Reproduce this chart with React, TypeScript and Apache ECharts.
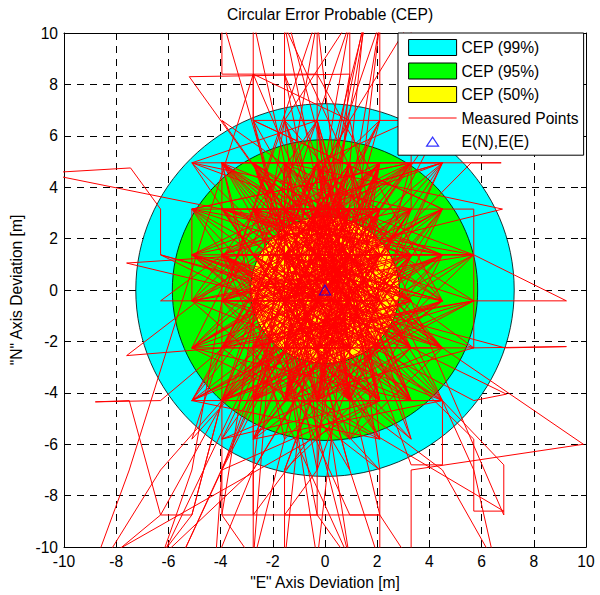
import React, { useEffect, useRef } from 'react';
import * as echarts from 'echarts';

const titleText = 'Circular Error Probable (CEP)';
const xAxisName = '"E" Axis Deviation [m]';
const yAxisName = '"N" Axis Deviation [m]';

const cepNames = ['CEP (99%)', 'CEP (95%)', 'CEP (50%)'];
const cepRadii = [7.25, 5.85, 2.85];
const cepColors = ['#00ffff', '#00ff00', '#ffff00'];
const cepCenter = [0, 0];

const meanName = 'E(N),E(E)';
const meanPoint = [0, 0];

const measuredName = 'Measured Points';
const measuredPoints: number[][] = [
  [-0.3, -0.42], [0.95, 3.15], [-2.75, -2.25], [2.1, -0.42], [-1.55, 1.37],
  [-0.3, -4.3], [3.3, 1.37], [-3.95, 3.15], [-10.8, 4.55], [-7.45, 4.75],
  [-6.3, 3.15], [-6.3, 1.37], [0.95, -2.25], [-0.3, 4.95], [-2.75, -0.42],
  [2.1, -4.3], [-1.55, 6.6], [-1.55, 11.0], [0.95, 1.37], [-5.1, -2.25],
  [3.3, 3.15], [-0.3, -7.0], [-1.55, -0.42], [4.5, -2.25], [-2.75, 4.95],
  [2.1, 1.37], [-3.95, -4.3], [0.95, 10.4], [-0.3, 3.15], [3.3, -0.42],
  [-2.75, -8.75], [-2.75, -7.0], [-1.55, 3.15], [4.5, 4.95], [-6.3, -4.3],
  [-8.8, -4.35], [-7.5, -4.3], [-6.3, -8.75], [-5.1, -8.75], [-3.95, -4.3],
  [0.95, -0.42], [-0.3, 1.37], [2.1, -2.25], [-3.95, 1.37], [3.3, -4.3],
  [-1.55, 8.4], [-3.95, 8.4], [-3.95, 10.6], [-0.3, -2.25], [5.7, -0.42],
  [9.25, -0.42], [5.7, 1.37], [-2.75, 1.37], [0.95, -4.3], [-0.3, 6.6],
  [-5.1, -0.42], [2.1, 3.15], [-1.55, -7.0], [3.3, -2.25], [-3.95, 4.95],
  [0.95, 1.37], [-2.75, -4.3], [2.1, 6.6], [2.1, 10.4], [-0.3, -10.5],
  [-1.55, -2.25], [4.5, 1.37], [-5.1, 3.15], [3.3, 4.95], [6.75, 4.95],
  [5.6, 4.95], [2.1, 1.37], [-2.75, -0.42], [0.95, -8.75], [2.1, -8.75],
  [-0.3, 1.37], [-3.95, -2.25], [2.1, 4.95], [-1.55, -4.3], [5.7, -2.25],
  [9.25, -2.2], [6.9, -2.25], [-6.3, 1.37], [-0.3, -0.42], [3.3, 3.15],
  [-2.75, -7.0], [-4.2, -10.6], [-3.95, -7.0], [0.95, 4.95], [2.1, -0.42],
  [-5.1, -4.3], [-1.55, 1.37], [4.5, -0.42], [-0.3, 8.4], [-0.3, 10.6],
  [-3.95, -0.42], [0.95, -2.25], [-2.75, 3.15], [3.3, 1.37], [-0.3, -4.3],
  [2.1, 10.4], [-1.55, -0.42], [5.7, -4.3], [6.95, -4.05], [-3.95, 1.37],
  [0.95, -7.0], [-2.75, 6.6], [4.5, 3.15], [-0.3, -2.25], [-5.1, 4.95],
  [2.1, -2.25], [-1.55, 3.15], [3.3, -0.42], [6.85, -8.75], [6.85, -6.8],
  [4.5, -4.3], [0.95, 1.37], [-2.75, -2.25], [-0.3, 3.15], [2.1, -4.3],
  [-3.95, -7.0], [-1.55, -2.25], [0.95, 6.6], [-0.3, 1.37], [3.3, -2.25],
  [-2.75, 1.37], [-7.6, 1.05], [-1.55, -0.42], [-6.3, -10.5], [-5.1, -7.0],
  [-3.95, -0.42], [2.1, 3.15], [-0.3, -0.42], [4.5, 4.95], [-1.55, -4.3],
  [0.95, 3.15], [5.7, 1.37], [-2.75, -4.3], [-0.3, 4.95], [3.3, -4.3],
  [-3.95, 3.15], [2.1, 1.37], [-1.55, -0.42], [0.95, -10.5], [-0.3, -2.25],
  [-2.75, 4.95], [4.5, -0.42], [-5.1, 1.37], [0.95, -0.42], [-0.3, 6.6],
  [2.1, -2.25], [-3.95, -4.3], [3.3, 4.95], [-1.55, 1.37], [5.7, -5.8],
  [5.7, -8.6], [6.85, -8.6], [-0.3, -4.3], [-2.75, -0.42], [0.95, 1.37],
  [2.1, -7.0], [-3.95, -2.25], [-7.6, -2.55], [-0.3, 3.15], [3.3, -0.42],
  [-1.55, 10.3], [0.95, -2.25], [-2.75, 3.15], [4.5, 1.37], [-0.3, -0.42],
  [-5.1, -2.25], [2.1, 4.95], [-1.55, -4.3], [3.3, 1.37], [0.95, -4.3],
  [-3.95, 1.37], [-0.3, -2.25], [2.1, 3.15], [-2.75, -4.3], [0.95, 4.95],
  [-1.55, -2.25], [4.5, -2.25], [9.9, -6.0], [3.3, -7.0], [3.3, -10.6],
  [2.1, -8.75], [-1.55, -8.75], [-0.3, -7.0], [0.95, 8.4], [-5.2, 8.3],
  [-0.3, 1.37], [6.8, 3.15], [-1.55, 4.95], [-2.75, -10.5], [-3.95, -8.75],
  [-1.55, 6.6], [3.3, 6.6], [-0.3, 4.95], [2.1, -4.3], [-8.8, -10.6],
  [-7.5, -7.0], [-2.75, 8.4], [0.95, -0.42], [4.5, 6.6], [-0.3, -0.42],
  [-3.95, 4.95], [4.5, 4.95], [2.1, -0.42], [-5.1, -0.42], [-5.1, 3.15],
  [3.3, 3.15], [3.3, 10.5], [0.95, 6.6], [-2.75, 6.6], [-2.75, 10.5],
  [-1.55, 4.95], [-1.55, -2.25], [5.7, -2.25], [5.7, 3.15], [-0.3, 3.15],
  [-0.3, -8.75], [-3.95, -8.75], [-3.95, 4.95], [-1.55, -4.3], [4.5, -4.3],
  [4.5, -6.8], [3.3, -6.8], [0.95, -0.42], [-2.75, -0.42], [-2.75, -5.8],
  [0.95, 3.15], [0.95, -5.8], [-1.55, 1.37], [2.1, 1.37], [-3.95, -2.25],
  [-5.1, -5.8], [-0.3, -0.42], [-0.3, 8.4], [-1.55, 8.4], [0.95, -4.3],
  [-2.75, 3.15], [2.1, -2.25], [-5.1, 1.37], [4.5, 1.37], [0.95, -2.25],
  [-1.55, 6.6], [-0.3, -5.8], [2.1, 4.95], [-3.95, -0.42], [3.3, -0.42],
  [-0.3, 1.37], [-2.75, -2.25], [-2.75, -10.6], [-1.55, -5.8], [0.95, 4.95],
  [2.1, -5.8], [-3.95, 3.15], [3.3, -2.25], [-0.3, 4.95], [-2.75, 1.37],
  [5.7, 1.37], [0.95, 1.37], [-1.55, -0.42], [-6.3, -0.42], [-1.55, 3.15],
  [2.1, 3.15], [-0.3, -4.3], [-5.1, -4.3], [-0.3, -2.25], [3.3, 1.37],
  [-3.95, 6.6], [0.95, -0.42], [-1.55, -7.0], [-1.55, -10.6], [-0.3, 1.37],
  [4.5, -2.25], [-2.75, 4.95], [-0.3, -0.42], [2.1, -4.3], [-3.95, 1.37],
  [0.95, 3.15], [-1.55, -2.25], [3.3, 4.95], [-5.1, 4.95], [-0.3, 6.6],
  [0.95, -4.3], [-2.75, -4.3], [4.5, -0.42], [-1.55, 1.37], [-0.3, -2.25],
  [2.1, 6.6], [-3.95, -5.8], [0.95, 1.37], [-2.75, -0.42], [3.3, -4.3],
  [-0.3, 3.15], [-1.55, -4.3], [5.7, -0.42], [-5.1, -2.25], [0.95, -2.25],
  [-1.55, 4.95], [2.1, 1.37], [-2.75, -7.0], [-6.5, -10.6], [-5.1, -8.75],
  [-3.95, -4.3], [-0.3, 4.95], [2.1, -0.42], [-2.75, 3.15], [0.95, -0.42],
  [-0.3, 10.5], [-1.55, 3.15], [3.3, -0.42], [-3.95, -2.25], [0.95, 4.95],
  [-0.3, -4.3], [4.5, 3.15], [-1.55, -0.42], [-2.75, 1.37], [2.1, -2.25],
  [-0.3, 1.37], [0.95, 8.4], [0.95, 10.5], [-1.55, 6.6], [-3.95, -0.42],
  [2.1, -7.0], [2.1, -10.6], [0.95, -7.0], [-0.3, -2.25], [3.3, 3.15],
  [-5.1, 1.37], [-0.3, -0.42], [-2.75, -2.25], [1.0, -10.6], [-0.3, -8.75],
  [-1.55, -2.25], [0.95, 3.15], [-3.95, 3.15], [2.1, 3.15], [-1.55, 1.37],
  [4.5, -4.3], [5.7, -7.0], [6.5, -10.6], [4.5, -7.0], [0.95, -4.3],
  [-2.75, 4.95], [-0.3, 1.37], [3.3, 1.37], [-1.55, -4.3], [-3.95, 1.37],
  [0.95, -2.25], [2.1, 4.95], [-0.3, -0.42], [-2.75, -4.3], [-5.6, -10.6],
  [-3.95, -7.0], [-0.3, 3.15], [-1.55, -0.42], [2.1, 1.37], [0.95, 6.6],
  [-2.75, 8.4], [-2.75, 6.6], [-0.3, -4.3], [3.3, -2.25], [-1.55, 3.15],
  [0.95, -0.42], [-3.95, -4.3], [-6.3, -7.0], [-8.5, -10.6], [-6.3, -8.75],
  [-2.75, -2.25], [-0.3, 1.37], [1.5, 10.5], [0.95, 4.95], [-1.55, 1.37],
  [4.5, -0.42], [-0.3, -2.25], [2.1, -4.3], [-2.75, 1.37], [0.95, 1.37],
  [-0.3, -0.42], [2.1, -2.25], [-1.55, 3.15], [0.95, -4.3], [-0.3, 4.95],
  [-2.75, -0.42], [3.3, 1.37], [-0.3, -2.25], [0.95, 3.15], [-3.95, -0.42],
  [2.1, 1.37], [-1.55, -4.3], [0.95, -0.42], [-0.3, 3.15], [-2.75, -2.25],
  [3.3, -0.42], [-1.55, 1.37], [2.1, 4.95], [-0.3, -4.3], [0.95, 1.37],
  [-2.75, 3.15], [4.5, -2.25], [-0.3, -0.42], [-1.55, -2.25], [2.1, 3.15],
  [0.95, -2.25], [-3.95, 1.37], [-0.3, 1.37], [3.3, -2.25], [-1.55, 4.95],
  [0.95, -0.42], [-2.75, -4.3], [2.1, -0.42], [-0.3, 3.15], [-1.55, -0.42],
  [4.5, 3.15], [0.95, -4.3], [-2.75, 1.37], [-0.3, -2.25], [2.1, 1.37],
  [-3.95, -2.25], [0.95, 4.95], [-1.55, 1.37], [3.3, -4.3], [-0.3, -0.42],
  [-2.75, 4.95], [0.95, 1.37], [2.1, -4.3], [-1.55, -2.25], [-0.3, 1.37],
  [3.3, 3.15], [-3.95, -4.3], [0.95, -2.25], [-0.3, 4.95], [-2.75, -0.42],
  [2.1, -2.25], [-1.55, 3.15], [0.95, -0.42], [4.5, 1.37], [-0.3, -4.3],
  [-2.75, 3.15], [2.1, 3.15], [-1.55, -4.3], [0.95, 1.37], [-3.95, 3.15],
  [-0.3, -2.25], [3.3, -0.42], [-1.55, 1.37], [0.95, 3.15], [-2.75, -2.25],
  [2.1, -0.42], [-0.3, 1.37], [-1.55, -0.42], [0.95, -4.3], [3.3, 4.95],
  [-0.3, -0.42], [-3.95, 1.37], [2.1, -2.25], [-2.75, 1.37], [0.95, -2.25],
  [-0.3, 3.15], [-1.55, -2.25], [4.5, -0.42], [-0.3, -4.3], [-2.75, -4.3],
  [0.95, 4.95], [2.1, 1.37], [-1.55, 3.15], [-0.3, -0.42], [3.3, -2.25],
  [-3.95, -0.42], [0.95, 1.37], [-2.75, 4.95], [-0.3, -2.25], [2.1, 4.95],
  [-1.55, -0.42], [0.95, -0.42], [-0.3, 1.37], [3.3, 1.37], [-2.75, -2.25],
  [0.95, 3.15], [-1.55, -4.3], [2.1, -4.3], [-0.3, 4.95], [-3.95, -2.25],
  [0.95, -2.25], [-1.55, 1.37], [2.1, -0.42], [-0.3, -0.42], [-2.75, 3.15],
  [4.5, -2.25], [0.95, 1.37], [-0.3, -4.3], [-1.55, 4.95], [2.1, 3.15],
  [-2.75, -0.42], [0.95, -4.3], [-0.3, 3.15], [3.3, -4.3], [-1.55, -2.25],
  [0.95, -0.42], [-3.95, 4.95], [-0.3, 1.37], [2.1, -2.25], [-2.75, 1.37],
  [0.95, 3.15], [-1.55, -0.42], [3.3, 3.15], [-0.3, -2.25], [0.95, 1.37],
  [-2.75, -4.3], [2.1, 1.37], [-0.3, -0.42], [-1.55, 3.15], [4.5, 4.95],
  [0.95, -2.25], [-3.95, -4.3], [-0.3, 4.95], [2.1, -4.3], [-1.55, 1.37],
  [0.95, -0.42], [-2.75, -2.25], [3.3, -0.42], [-0.3, 1.37], [-1.55, -4.3],
  [0.95, 4.95], [2.1, -0.42], [-2.75, 3.15], [-0.3, -4.3], [0.95, 1.37],
  [-3.95, 1.37], [2.1, 3.15], [-1.55, -2.25], [-0.3, 3.15], [3.3, -2.25],
  [0.95, -4.3], [-2.75, 1.37], [-0.3, -0.42], [1.55, 10.5], [-0.3, 3.15],
  [-1.55, 1.37], [0.95, -2.25], [-2.75, -0.42], [2.1, 4.95], [-0.3, -2.25],
  [-3.95, 3.15], [0.95, 1.37], [-1.55, -0.42], [3.3, 1.37], [-0.3, 4.95],
  [-2.75, -4.3], [0.95, -0.42], [2.1, -2.25], [-0.3, 1.37], [-1.55, 3.15],
  [4.5, -4.3], [0.95, 3.15], [-2.75, -2.25], [-0.3, -4.3], [2.1, 1.37],
  [-1.55, 4.95], [0.95, -4.3], [-3.95, -0.42], [-0.3, -0.42],
  [-5.1, 3.15], [4.5, -2.25], [-3.95, 4.95], [3.3, -4.3], [-5.1, -2.25],
  [4.5, 3.15], [-2.75, -5.8], [2.1, 4.95], [-5.1, 1.37], [4.5, -4.3],
  [-3.95, -4.3], [3.3, 4.95], [-5.1, -0.42], [5.7, 1.37], [-1.55, -5.8],
  [-3.95, 4.95], [4.5, 1.37], [-5.1, -4.3], [2.1, -5.8], [-2.75, 4.95],
  [5.7, -0.42], [-3.95, -2.25], [3.3, 4.95], [-5.1, 3.15], [0.95, -5.8],
  [4.5, -2.25], [-3.95, 1.37], [3.3, -4.3], [-2.75, 6.6], [4.5, 3.15],
  [-5.1, -2.25], [2.1, -5.8], [-3.95, 4.95], [5.7, -2.25], [-5.1, 1.37],
  [3.3, -5.8], [-1.55, 6.6], [4.5, -0.42], [-3.95, -4.3], [2.1, 6.6],
  [-5.1, -0.42], [4.5, -4.3], [-2.75, -5.8], [3.3, 3.15], [-5.1, 4.95],
  [4.5, 1.37], [-3.95, -2.25], [0.95, 6.6], [-5.1, -4.3], [5.7, 1.37],
  [-3.95, 3.15], [3.3, -2.25], [-2.75, 4.95], [4.5, 4.95], [-5.1, 1.37],
  [2.1, -4.3], [-3.95, -5.8], [4.5, -2.25], [-1.55, 4.95], [-5.1, -2.25],
  [3.3, 4.95], [-3.95, 1.37], [4.5, -4.3], [-2.75, -4.3], [5.7, -0.42],
  [-5.1, 3.15], [3.3, -5.8], [-0.3, 6.6], [-3.95, -0.42], [4.5, 3.15],
  [-5.1, -4.3], [2.1, 4.95], [-3.95, 4.95], [4.5, -0.42], [-2.75, -5.8],
  [3.3, 1.37], [-5.1, -0.42], [0.95, -5.8], [4.5, 1.37], [-3.95, -4.3],
  [-0.3, -0.42],
];

const axisMin = -10;
const axisMax = 10;
const axisInterval = 2;

export default function App() {
  const ref = useRef<HTMLDivElement>(null);

  useEffect(() => {
    if (!ref.current) return;
    const chart = echarts.init(ref.current, null, { renderer: 'svg' });
    const font = '"Liberation Sans", Arial, Helvetica, sans-serif';
    const black = '#000000';
    const fs = 15.6;

    const baseAxis = {
      type: 'value',
      min: axisMin,
      max: axisMax,
      interval: axisInterval,
      axisLine: { show: true, onZero: false, lineStyle: { color: black, width: 1 } },
      axisTick: { show: true, inside: true, length: 5, lineStyle: { color: black, width: 1 } },
    };

    const circleSeries = cepNames.map((name, i) => ({
      name,
      type: 'custom',
      coordinateSystem: 'cartesian2d',
      z: 1,
      silent: true,
      data: [[cepCenter[0], cepCenter[1], cepRadii[i]]],
      encode: { x: 0, y: 1 },
      itemStyle: { color: cepColors[i], borderColor: black, borderWidth: 1 },
      renderItem: (params: any, api: any) => {
        const c = api.coord([api.value(0), api.value(1)]);
        const rx = api.size([api.value(2), 0])[0];
        const ry = api.size([0, api.value(2)])[1];
        return {
          type: 'ellipse',
          shape: { cx: c[0], cy: c[1], rx, ry },
          style: { fill: cepColors[i], stroke: black, lineWidth: 0.8 },
        };
      },
    }));

    const option: any = {
      animation: false,
      backgroundColor: '#ffffff',
      textStyle: { fontFamily: font },
      title: {
        text: titleText,
        left: 325,
        top: 1,
        textAlign: 'center',
        textStyle: { fontSize: fs, fontWeight: 'normal', color: black, fontFamily: font },
      },
      grid: { left: 64, right: 14, top: 33, bottom: 40, containLabel: false },
      xAxis: [
        {
          ...baseAxis,
          position: 'bottom',
          axisLabel: { fontSize: fs, color: black, margin: 6, fontFamily: font },
          splitLine: { show: true, lineStyle: { color: black, width: 1, type: [7, 6] } },
          name: xAxisName,
          nameLocation: 'middle',
          nameGap: 24,
          nameTextStyle: { fontSize: fs, color: black, fontFamily: font },
        },
        {
          ...baseAxis,
          position: 'top',
          axisLabel: { show: false },
          splitLine: { show: false },
        },
      ],
      yAxis: [
        {
          ...baseAxis,
          position: 'left',
          axisLabel: { fontSize: fs, color: black, margin: 6, fontFamily: font },
          splitLine: { show: true, lineStyle: { color: black, width: 1, type: [7, 6] } },
          name: yAxisName,
          nameLocation: 'middle',
          nameGap: 36,
          nameTextStyle: { fontSize: fs, color: black, fontFamily: font },
        },
        {
          ...baseAxis,
          position: 'right',
          axisLabel: { show: false },
          splitLine: { show: false },
        },
      ],
      legend: {
        orient: 'vertical',
        left: 398,
        top: 33,
        itemWidth: 48,
        itemHeight: 16,
        itemGap: 6.5,
        padding: [6, 5, 5, 10],
        backgroundColor: '#ffffff',
        borderColor: black,
        borderWidth: 1,
        z: 10,
        textStyle: { fontSize: fs, color: black, fontFamily: font },
        data: [
          ...cepNames.map((name, i) => ({
            name,
            icon: 'rect',
            itemStyle: { color: cepColors[i], borderColor: black, borderWidth: 1 },
          })),
          {
            name: measuredName,
            icon: 'path://M0,0L0,0M48,16L48,16M0,8L48,8',
            itemStyle: { color: 'rgba(0,0,0,0)', borderColor: '#ff0000', borderWidth: 1 },
          },
          {
            name: meanName,
            icon: 'path://M0,0L0,0M48,16L48,16M18,12.5L24,3.5L30,12.5Z',
            itemStyle: { color: 'rgba(0,0,0,0)', borderColor: '#0000ff', borderWidth: 1.2 },
          },
        ],
      },
      series: [
        ...circleSeries,
        {
          name: measuredName,
          type: 'line',
          data: measuredPoints,
          symbol: 'none',
          showSymbol: false,
          clip: true,
          z: 3,
          silent: true,
          lineStyle: { color: '#ff0000', width: 1 },
          itemStyle: { color: '#ff0000' },
        },
        {
          name: meanName,
          type: 'scatter',
          data: [meanPoint],
          symbol: 'triangle',
          symbolSize: [11, 10],
          z: 5,
          itemStyle: { color: 'rgba(0,0,0,0)', borderColor: '#0000ff', borderWidth: 1.2 },
        },
      ],
    };

    chart.setOption(option);
    return () => chart.dispose();
  }, []);

  return (
    <div
      ref={ref}
      style={{ position: 'fixed', left: 0, top: 0, width: 600, height: 595 }}
    />
  );
}
